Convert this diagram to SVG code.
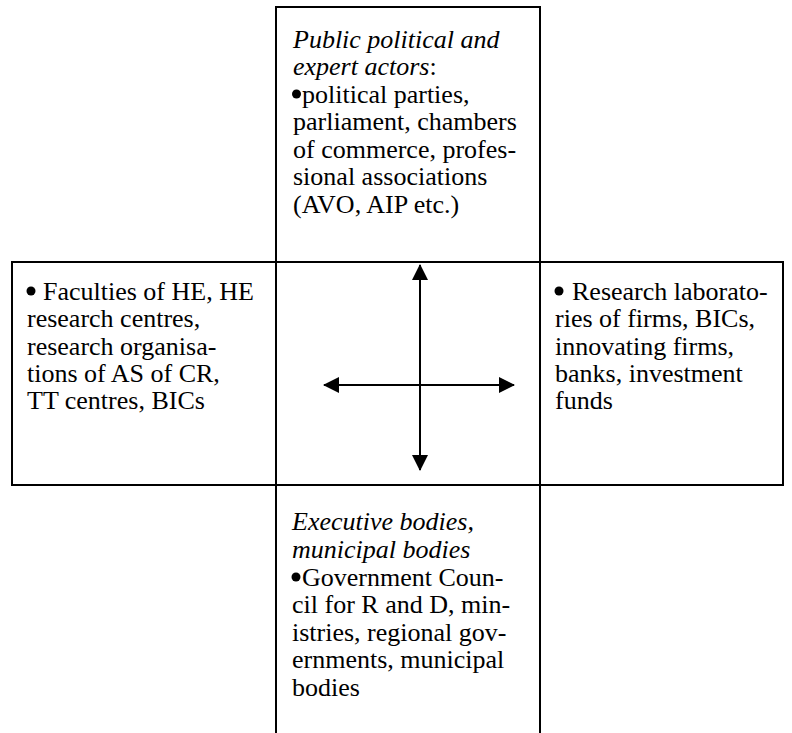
<svg xmlns="http://www.w3.org/2000/svg" width="792" height="733" viewBox="0 0 792 733">
<style>
.t{font-family:'Liberation Serif','Times New Roman','DejaVu Serif',serif;font-size:26px;fill:#000}
.it{font-style:italic}
.ln{stroke:#000;stroke-width:2;fill:none}
.ar{stroke:#000;stroke-width:2}
</style>
<defs>
<marker id="ah" viewBox="0 0 16 16" refX="15" refY="8" markerWidth="16" markerHeight="16" markerUnits="userSpaceOnUse" orient="auto-start-reverse">
<path d="M0,0 L16,8 L0,16 Z" fill="#000"/>
</marker>
</defs>
<g id="grid">
<line class="ln" x1="276" y1="7" x2="540" y2="7"/>
<line class="ln" x1="276" y1="6" x2="276" y2="733"/>
<line class="ln" x1="540" y1="6" x2="540" y2="733"/>
<line class="ln" x1="11" y1="262" x2="784" y2="262"/>
<line class="ln" x1="11" y1="485" x2="784" y2="485"/>
<line class="ln" x1="12" y1="261" x2="12" y2="486"/>
<line class="ln" x1="783" y1="261" x2="783" y2="486"/>
</g>
<g id="top" class="t">
<text x="293" y="48" class="it">Public political and</text>
<text x="293" y="75"><tspan class="it">expert actors</tspan>:</text>
<circle cx="296.5" cy="94" r="4.5"/>
<text x="302" y="103">political parties,</text>
<text x="293" y="130">parliament, chambers</text>
<text x="293" y="158">of commerce, profes-</text>
<text x="293" y="185">sional associations</text>
<text x="293" y="213">(AVO, AIP etc.)</text>
</g>
<g id="left" class="t">
<circle cx="31" cy="291" r="4.5"/>
<text x="43" y="300">Faculties of HE, HE</text>
<text x="27" y="327">research centres,</text>
<text x="27" y="355">research organisa-</text>
<text x="27" y="382">tions of AS of CR,</text>
<text x="27" y="409">TT centres, BICs</text>
</g>
<g id="right" class="t">
<circle cx="559" cy="291" r="4.5"/>
<text x="572" y="300">Research laborato-</text>
<text x="555" y="327">ries of firms, BICs,</text>
<text x="555" y="355">innovating firms,</text>
<text x="555" y="382">banks, investment</text>
<text x="555" y="409">funds</text>
</g>
<g id="bottom" class="t">
<text x="292" y="530" class="it">Executive bodies,</text>
<text x="292" y="558" class="it">municipal bodies</text>
<circle cx="296" cy="577" r="4.5"/>
<text x="302" y="586">Government Coun-</text>
<text x="292" y="613">cil for R and D, min-</text>
<text x="292" y="641">istries, regional gov-</text>
<text x="292" y="668">ernments, municipal</text>
<text x="292" y="696">bodies</text>
</g>
<g id="connectors">
<line class="ar" x1="420" y1="385" x2="420" y2="265" marker-end="url(#ah)"/>
<line class="ar" x1="420" y1="385" x2="420" y2="470" marker-end="url(#ah)"/>
<line class="ar" x1="420" y1="385" x2="324" y2="385" marker-end="url(#ah)"/>
<line class="ar" x1="420" y1="385" x2="514" y2="385" marker-end="url(#ah)"/>
</g>
</svg>
